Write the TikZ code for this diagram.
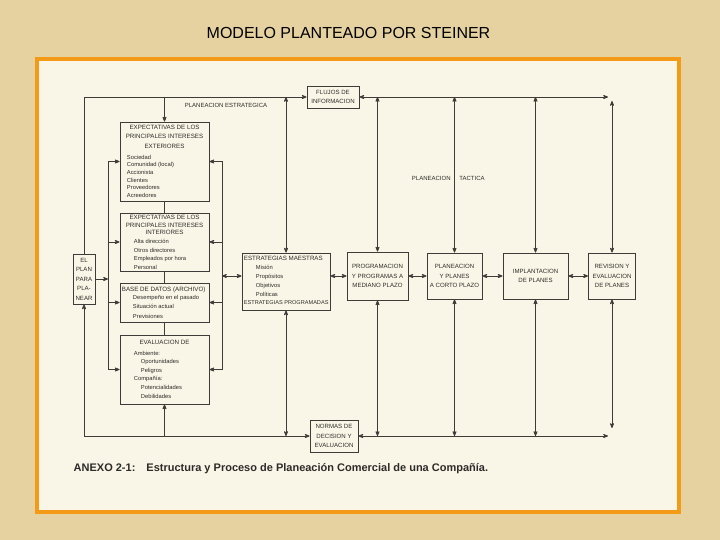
\documentclass[tikz,border=0pt]{standalone}
\usepackage{fontspec}
\setmainfont{Liberation Sans}
\usepackage{tikz}
\usetikzlibrary{arrows, positioning}
\definecolor{colorBack}{RGB}{229,210,160}
\definecolor{colorFrame}{RGB}{243,154,22}
\definecolor{colorPaper}{RGB}{250,246,231}
\definecolor{colorLine}{RGB}{62,60,56}
\definecolor{colorInk}{RGB}{45,43,41}
\tikzset{
  box/.style={draw=colorLine, line width=0.8pt, fill=colorPaper, inner sep=1pt, align=center, text=colorInk, font=\fontsize{6.1}{9.5}\selectfont},
  head/.style={inner sep=0pt, align=center, text=colorInk, font=\fontsize{6.2}{9.5}\selectfont},
  list/.style={inner sep=0pt, align=left, text=colorInk, font=\fontsize{5.8}{#1}\selectfont},
  list/.default=9,
  zone/.style={inner sep=0pt, text=colorInk, font=\fontsize{6}{7}\selectfont}
}

\begin{document}
\begin{tikzpicture}[x=1pt, y=-1pt, >=stealth', line width=0.75pt, color=colorLine]
\useasboundingbox (0,0) rectangle (720,540);
\fill[colorBack] (0,0) rectangle (720,540);
\node[font=\fontsize{16}{19}\selectfont, text=black] (title) at (348.5,33) {MODELO PLANTEADO POR STEINER};
\draw[colorFrame, line width=4pt, fill=colorPaper] (36.5,59.5) rectangle (678.5,511.5);

% boxes
\node[box, minimum width=52pt, minimum height=22pt] (flujos) at (333,97) {FLUJOS DE\\INFORMACION};
\node[box, minimum width=48pt, minimum height=32pt] (normas) at (334,436) {NORMAS DE\\DECISION Y\\EVALUACION};
\node[box, minimum width=22pt, minimum height=50pt] (elplan) at (84,279) {EL\\PLAN\\PARA\\PLA-\\NEAR};
\node[box, minimum width=89pt, minimum height=79pt] (ext) at (164.5,161.5) {};
\node[box, minimum width=89pt, minimum height=58pt] (int) at (164.5,242) {};
\node[box, minimum width=89pt, minimum height=39pt] (base) at (164.5,302.5) {};
\node[box, minimum width=89pt, minimum height=69pt] (eval) at (164.5,369.5) {};
\node[box, minimum width=88pt, minimum height=57pt] (maes) at (286,281.5) {};
\node[box, minimum width=61pt, minimum height=48pt] (prog) at (377.5,276) {PROGRAMACION\\Y PROGRAMAS A\\MEDIANO PLAZO};
\node[box, minimum width=55pt, minimum height=46pt] (corto) at (454.5,276) {PLANEACION\\Y PLANES\\A CORTO PLAZO};
\node[box, minimum width=65pt, minimum height=46pt] (impl) at (535.5,276) {IMPLANTACION\\DE PLANES};
\node[box, minimum width=47pt, minimum height=46pt] (rev) at (612,276) {REVISION Y\\EVALUACION\\DE PLANES};

% box contents
\node[head, below=3pt of ext.north] (extHead) {EXPECTATIVAS DE LOS\\PRINCIPALES INTERESES\\EXTERIORES};
\node[list=7.7, anchor=north west] (extList) at ([xshift=7pt, yshift=-33pt]ext.north west) {Sociedad\\Comunidad (local)\\Accionista\\Clientes\\Proveedores\\Acreedores};
\node[head, below=2.5pt of int.north, font=\fontsize{6.2}{7.3}\selectfont] (intHead) {EXPECTATIVAS DE LOS\\PRINCIPALES INTERESES\\INTERIORES};
\node[list=8.8, anchor=north west] (intList) at ([xshift=14pt, yshift=-26pt]int.north west) {Alta dirección\\Otros directores\\Empleados por hora\\Personal};
\node[head, anchor=north west] (baseHead) at ([xshift=2pt, yshift=-4pt]base.north west) {BASE DE DATOS (ARCHIVO)};
\node[list=9.5, anchor=north west] (baseList) at ([xshift=13pt, yshift=-12pt]base.north west) {Desempeño en el pasado\\Situación actual\\Previsiones};
\node[head, below=5pt of eval.north] (evalHead) {EVALUACION DE};
\node[list=8.6, anchor=north west] (evalList) at ([xshift=14pt, yshift=-16pt]eval.north west) {Ambiente:\\\hspace*{7pt}Oportunidades\\\hspace*{7pt}Peligros\\Compañía:\\\hspace*{7pt}Potencialidades\\\hspace*{7pt}Debilidades};
\node[head, anchor=north west] (maesHead) at ([xshift=2pt, yshift=-3pt]maes.north west) {ESTRATEGIAS MAESTRAS};
\node[list=9, anchor=north west] (maesList) at ([xshift=14pt, yshift=-12pt]maes.north west) {Misión\\Propósitos\\Objetivos\\Políticas};
\node[head, anchor=south west, font=\fontsize{5.6}{7}\selectfont] (maesProg) at ([xshift=2pt, yshift=5pt]maes.south west) {ESTRATEGIAS PROGRAMADAS};

% zone labels
\node[zone] (strat) at (226,105) {PLANEACION ESTRATEGICA};
\node[zone, anchor=east] (tactA) at (451,178) {PLANEACION};
\node[zone, anchor=west] (tactB) at (459,178) {TACTICA};

% top line
\coordinate (topEnd) at (608,97);
\coordinate (revTop) at (612,101);
\draw[->] (elplan.north) |- (flujos.west);
\draw[<->] (flujos.east) -- (topEnd);
\draw[->] (ext.north |- flujos.west) -- (ext.north);
\draw[<->] (maes.north |- flujos.west) -- (maes.north);
\draw[<->] (prog.north |- flujos.west) -- (prog.north);
\draw[<->] (corto.north |- flujos.west) -- (corto.north);
\draw[<->] (impl.north |- flujos.west) -- (impl.north);
\draw[<->] (revTop) -- (rev.north);

% bottom line
\coordinate (botEnd) at (608,436);
\coordinate (revBot) at (612,428);
\draw[<->] (elplan.south) |- (normas.west);
\draw[<->] (normas.east) -- (botEnd);
\draw[->] (eval.south |- normas.west) -- (eval.south);
\draw[<->] (maes.south) -- (maes.south |- normas.west);
\draw[<->] (prog.south) -- (prog.south |- normas.west);
\draw[<->] (corto.south) -- (corto.south |- normas.west);
\draw[<->] (impl.south) -- (impl.south |- normas.west);
\draw[<->] (rev.south) -- (revBot);

% left column
\draw (ext.south) -- (int.north) (int.south) -- (base.north) (base.south) -- (eval.north);

% buses
\coordinate (busL) at (108,0);
\coordinate (busR) at (222,0);
\draw (busL |- ext.west) -- (busL |- eval.west);
\draw[->] (elplan.east) -- (elplan.east -| busL);
\draw[->] (busL |- ext.west) -- (ext.west);
\draw[->] (busL |- int.west) -- (int.west);
\draw[->] (busL |- base.west) -- (base.west);
\draw[->] (busL |- eval.west) -- (eval.west);
\draw (busR |- ext.east) -- (busR |- eval.east);
\draw[->] (busR |- ext.east) -- (ext.east);
\draw[->] (busR |- int.east) -- (int.east);
\draw[->] (busR |- base.east) -- (base.east);
\draw[->] (busR |- eval.east) -- (eval.east);
\draw[<->] (busR |- prog.west) -- (maes.west |- prog.west);

% plan row
\draw[<->] (maes.east |- prog.west) -- (prog.west);
\draw[<->] (prog) -- (corto);
\draw[<->] (corto) -- (impl);
\draw[<->] (impl) -- (rev);

% caption
\node[anchor=west, font=\fontsize{11}{13}\selectfont\bfseries, text=colorInk] (caption) at (70,469) {ANEXO 2-1:\hspace{11pt}Estructura y Proceso de Planeación Comercial de una Compañía.};
\end{tikzpicture}
\end{document}
